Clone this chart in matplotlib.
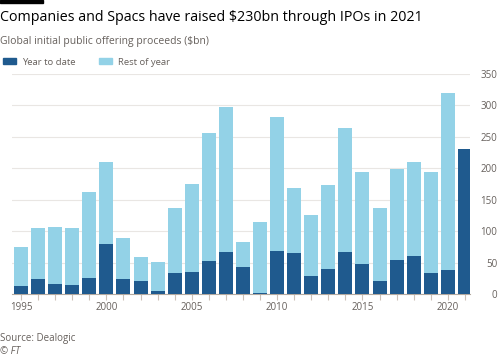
import matplotlib.pyplot as plt
from matplotlib.patches import Rectangle

# Dados (US$ bn)
anos = list(range(1995, 2022))
ate_a_data = [12, 24, 16, 14, 25, 80, 24, 21, 4, 33, 35, 52, 67, 43, 2, 69, 65, 29, 39, 67, 48, 21, 54, 60, 34, 38, 230]
total = [75, 105, 107, 105, 163, 210, 89, 59, 51, 137, 175, 257, 298, 83, 115, 282, 169, 125, 174, 264, 194, 137, 199, 210, 194, 320, 230]
resto_do_ano = [t - a for t, a in zip(total, ate_a_data)]
yticks = [0, 50, 100, 150, 200, 250, 300, 350]
xticks_lab = [1995, 2000, 2005, 2010, 2015, 2020]

COR_ESCURA = "#1f5a8e"
COR_CLARA = "#93d2e7"
CINZA = "#66605c"

plt.rcParams["font.family"] = ["Open Sans", "DejaVu Sans"]

fig = plt.figure(figsize=(5, 3.57), dpi=100)
ax = fig.add_axes([0.024, 0.1765, 0.916, 0.616])

ax.bar(anos, ate_a_data, width=0.82, color=COR_ESCURA, zorder=3)
ax.bar(anos, resto_do_ano, width=0.82, bottom=ate_a_data, color=COR_CLARA, zorder=3)

ax.set_xlim(1994.47, 2021.3)
ax.set_ylim(0, 350)

ax.set_yticks(yticks)
ax.yaxis.tick_right()
ax.tick_params(axis="y", length=0, pad=19.5, labelsize=7, labelcolor=CINZA)
for lab in ax.get_yticklabels():
    lab.set_horizontalalignment("right")
ax.grid(axis="y", color="#e9e6e3", linewidth=0.8, zorder=0)

ax.set_xticks(anos, minor=True)
ax.set_xticks(xticks_lab)
ax.tick_params(axis="x", which="both", length=4, color="#ccc1b7", width=0.8,
               labelsize=7, labelcolor=CINZA, pad=2)

for lado in ["top", "left", "right"]:
    ax.spines[lado].set_visible(False)
ax.spines["bottom"].set_color("#b3a9a0")
ax.spines["bottom"].set_linewidth(0.8)

# Cabeçalho
fig.patches.append(Rectangle((0, 0.992), 0.086, 0.008, transform=fig.transFigure,
                             color="#000000", zorder=5))
fig.text(0, 0.95, "Companies and Spacs have raised $230bn through IPOs in 2021",
         fontsize=10.3, color="#000000", va="center", ha="left")
fig.text(0, 0.885, "Global initial public offering proceeds ($bn)",
         fontsize=7.5, color=CINZA, va="center", ha="left")

# Legenda
h1 = Rectangle((0, 0), 1, 1, color=COR_ESCURA)
h2 = Rectangle((0, 0), 1, 1, color=COR_CLARA)
fig.legend([h1, h2], ["Year to date", "Rest of year"], loc="center left",
           bbox_to_anchor=(-0.012, 0.826), ncol=2, frameon=False, fontsize=6.8,
           handlelength=1.4, handleheight=0.6, handletextpad=0.7, columnspacing=2.4,
           labelcolor=CINZA)

# Rodapé
fig.text(0, 0.053, "Source: Dealogic", fontsize=7, color=CINZA, va="center", ha="left")
fig.text(0, 0.016, "© FT", fontsize=7, color=CINZA, va="center", ha="left", style="italic")

fig.savefig("out.png", dpi=100, facecolor="white")
